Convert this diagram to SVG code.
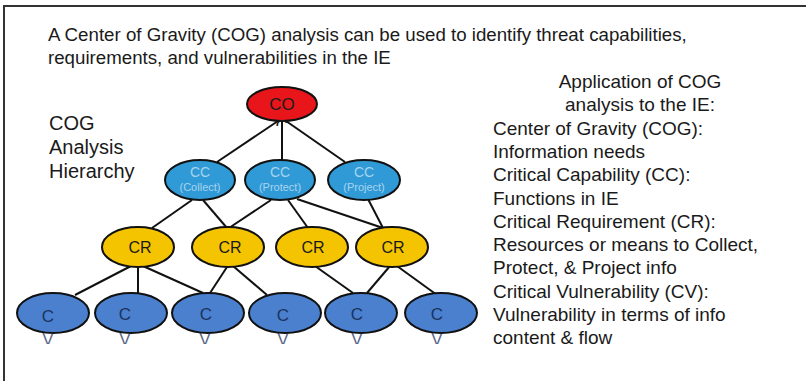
<svg xmlns="http://www.w3.org/2000/svg" width="808" height="381" viewBox="0 0 808 381">
  <style>
    text { font-family: "Liberation Sans", Arial, sans-serif; }
    .txt { font-size: 19px; fill: #1a1a1a; }
    .node { stroke: #111; stroke-width: 2; }
    .cog { fill: #e8161b; }
    .cc { fill: #2f9ad6; }
    .cr { fill: #f5c400; }
    .cv { fill: #4a80cd; }
    .lbl { font-size: 16px; text-anchor: middle; fill: #1a1a1a; }
    .cvl { font-size: 17px; text-anchor: middle; fill: #1c3360; }
    .ccl { text-anchor: middle; fill: #a9d3ef; }
    .edges line { stroke: #111; stroke-width: 2; }
  </style>
  <defs>
    <clipPath id="clipTop"><rect x="0" y="0" width="808" height="126"/></clipPath>
    <clipPath id="clipRow"><rect x="0" y="0" width="808" height="344"/></clipPath>
  </defs>

  <rect x="0" y="0" width="808" height="381" fill="#ffffff"/>
  <!-- frame -->
  <path d="M4 381 V6 H806" fill="none" stroke="#333" stroke-width="2"/>

  <!-- heading -->
  <text class="txt" x="48" y="41" style="font-size:18.7px">A Center of Gravity (COG) analysis can be used to identify threat capabilities,</text>
  <text class="txt" x="48" y="64" style="font-size:18.7px">requirements, and vulnerabilities in the IE</text>

  <g id="hierarchy-label">
    <text class="txt" x="49" y="130" style="font-size:20px">COG</text>
    <text class="txt" x="49" y="154" style="font-size:20px">Analysis</text>
    <text class="txt" x="49" y="178" style="font-size:20px">Hierarchy</text>
  </g>

  <!-- connectors -->
  <g id="connectors" class="edges">
    <line x1="278" y1="121" x2="217" y2="162"/>
    <line x1="282" y1="121" x2="282" y2="160"/>
    <line x1="286" y1="121" x2="345" y2="162"/>

    <line x1="192" y1="200" x2="152" y2="228"/>
    <line x1="203" y1="200" x2="227" y2="228"/>
    <line x1="271" y1="200" x2="229" y2="228"/>
    <line x1="288" y1="200" x2="308" y2="228"/>
    <line x1="297" y1="199" x2="383" y2="228"/>
    <line x1="368" y1="199" x2="383" y2="228"/>

    <line x1="131" y1="266" x2="75" y2="295"/>
    <line x1="138" y1="267" x2="138" y2="293"/>
    <line x1="143" y1="266" x2="203" y2="293"/>
    <line x1="227" y1="267" x2="210" y2="293"/>
    <line x1="233" y1="266" x2="267" y2="295"/>
    <line x1="315" y1="266" x2="353" y2="293"/>
    <line x1="390" y1="266" x2="367" y2="293"/>
    <line x1="397" y1="266" x2="437" y2="295"/>
  </g>

  <!-- center of gravity -->
  <g id="cog">
    <ellipse class="node cog" cx="282" cy="104" rx="35" ry="17"/>
    <text class="lbl" x="282" y="110" style="font-size:17px">CO</text>
    <text class="lbl" x="282" y="132" style="font-size:17px" clip-path="url(#clipTop)">G</text>
  </g>

  <!-- critical capabilities -->
  <g id="cc-collect">
    <ellipse class="node cc" cx="200" cy="180" rx="35" ry="20"/>
    <text class="ccl" x="200" y="177" style="font-size:14px">CC</text>
    <text class="ccl" x="200" y="191" style="font-size:11px">(Collect)</text>
  </g>
  <g id="cc-protect">
    <ellipse class="node cc" cx="280" cy="180" rx="35" ry="20"/>
    <text class="ccl" x="280" y="177" style="font-size:14px">CC</text>
    <text class="ccl" x="280" y="191" style="font-size:11px">(Protect)</text>
  </g>
  <g id="cc-project">
    <ellipse class="node cc" cx="364" cy="180" rx="36" ry="20"/>
    <text class="ccl" x="364" y="177" style="font-size:14px">CC</text>
    <text class="ccl" x="364" y="191" style="font-size:11px">(Project)</text>
  </g>

  <!-- critical requirements -->
  <g id="cr-1">
    <ellipse class="node cr" cx="138" cy="247" rx="36" ry="20"/>
    <text class="lbl" x="140" y="253">CR</text>
  </g>
  <g id="cr-2">
    <ellipse class="node cr" cx="228" cy="247" rx="36" ry="20"/>
    <text class="lbl" x="230" y="253">CR</text>
  </g>
  <g id="cr-3">
    <ellipse class="node cr" cx="312" cy="247" rx="36" ry="20"/>
    <text class="lbl" x="313" y="253">CR</text>
  </g>
  <g id="cr-4">
    <ellipse class="node cr" cx="392" cy="247" rx="36" ry="20"/>
    <text class="lbl" x="393" y="253">CR</text>
  </g>

  <!-- critical vulnerabilities -->
  <g id="cv-1">
    <ellipse class="node cv" cx="53" cy="313" rx="36" ry="20"/>
    <text class="cvl" x="48" y="322">C</text>
    <text class="cvl" x="48" y="345" clip-path="url(#clipRow)" opacity="0.75">V</text>
  </g>
  <g id="cv-2">
    <ellipse class="node cv" cx="131" cy="313" rx="36" ry="20"/>
    <text class="cvl" x="125" y="320">C</text>
    <text class="cvl" x="125" y="345" clip-path="url(#clipRow)" opacity="0.75">V</text>
  </g>
  <g id="cv-3">
    <ellipse class="node cv" cx="208" cy="313" rx="36" ry="20"/>
    <text class="cvl" x="206" y="320">C</text>
    <text class="cvl" x="205" y="345" clip-path="url(#clipRow)" opacity="0.75">V</text>
  </g>
  <g id="cv-4">
    <ellipse class="node cv" cx="285" cy="313" rx="36" ry="20"/>
    <text class="cvl" x="283" y="321">C</text>
    <text class="cvl" x="283" y="345" clip-path="url(#clipRow)" opacity="0.75">V</text>
  </g>
  <g id="cv-5">
    <ellipse class="node cv" cx="361" cy="313" rx="36" ry="20"/>
    <text class="cvl" x="357" y="320">C</text>
    <text class="cvl" x="357" y="345" clip-path="url(#clipRow)" opacity="0.75">V</text>
  </g>
  <g id="cv-6">
    <ellipse class="node cv" cx="441" cy="313" rx="36" ry="20"/>
    <text class="cvl" x="437" y="320">C</text>
    <text class="cvl" x="437" y="345" clip-path="url(#clipRow)" opacity="0.75">V</text>
  </g>

  <!-- application notes -->
  <g id="notes" class="txt">
    <text x="640" y="88" text-anchor="middle">Application of COG</text>
    <text x="640" y="111" text-anchor="middle">analysis to the IE:</text>
    <text x="493" y="135">Center of Gravity (COG):</text>
    <text x="493" y="158">Information needs</text>
    <text x="493" y="181">Critical Capability (CC):</text>
    <text x="493" y="205">Functions in IE</text>
    <text x="493" y="228">Critical Requirement (CR):</text>
    <text x="493" y="251">Resources or means to Collect,</text>
    <text x="493" y="274">Protect, &amp; Project info</text>
    <text x="493" y="298">Critical Vulnerability (CV):</text>
    <text x="493" y="321">Vulnerability in terms of info</text>
    <text x="493" y="344">content &amp; flow</text>
  </g>
</svg>
